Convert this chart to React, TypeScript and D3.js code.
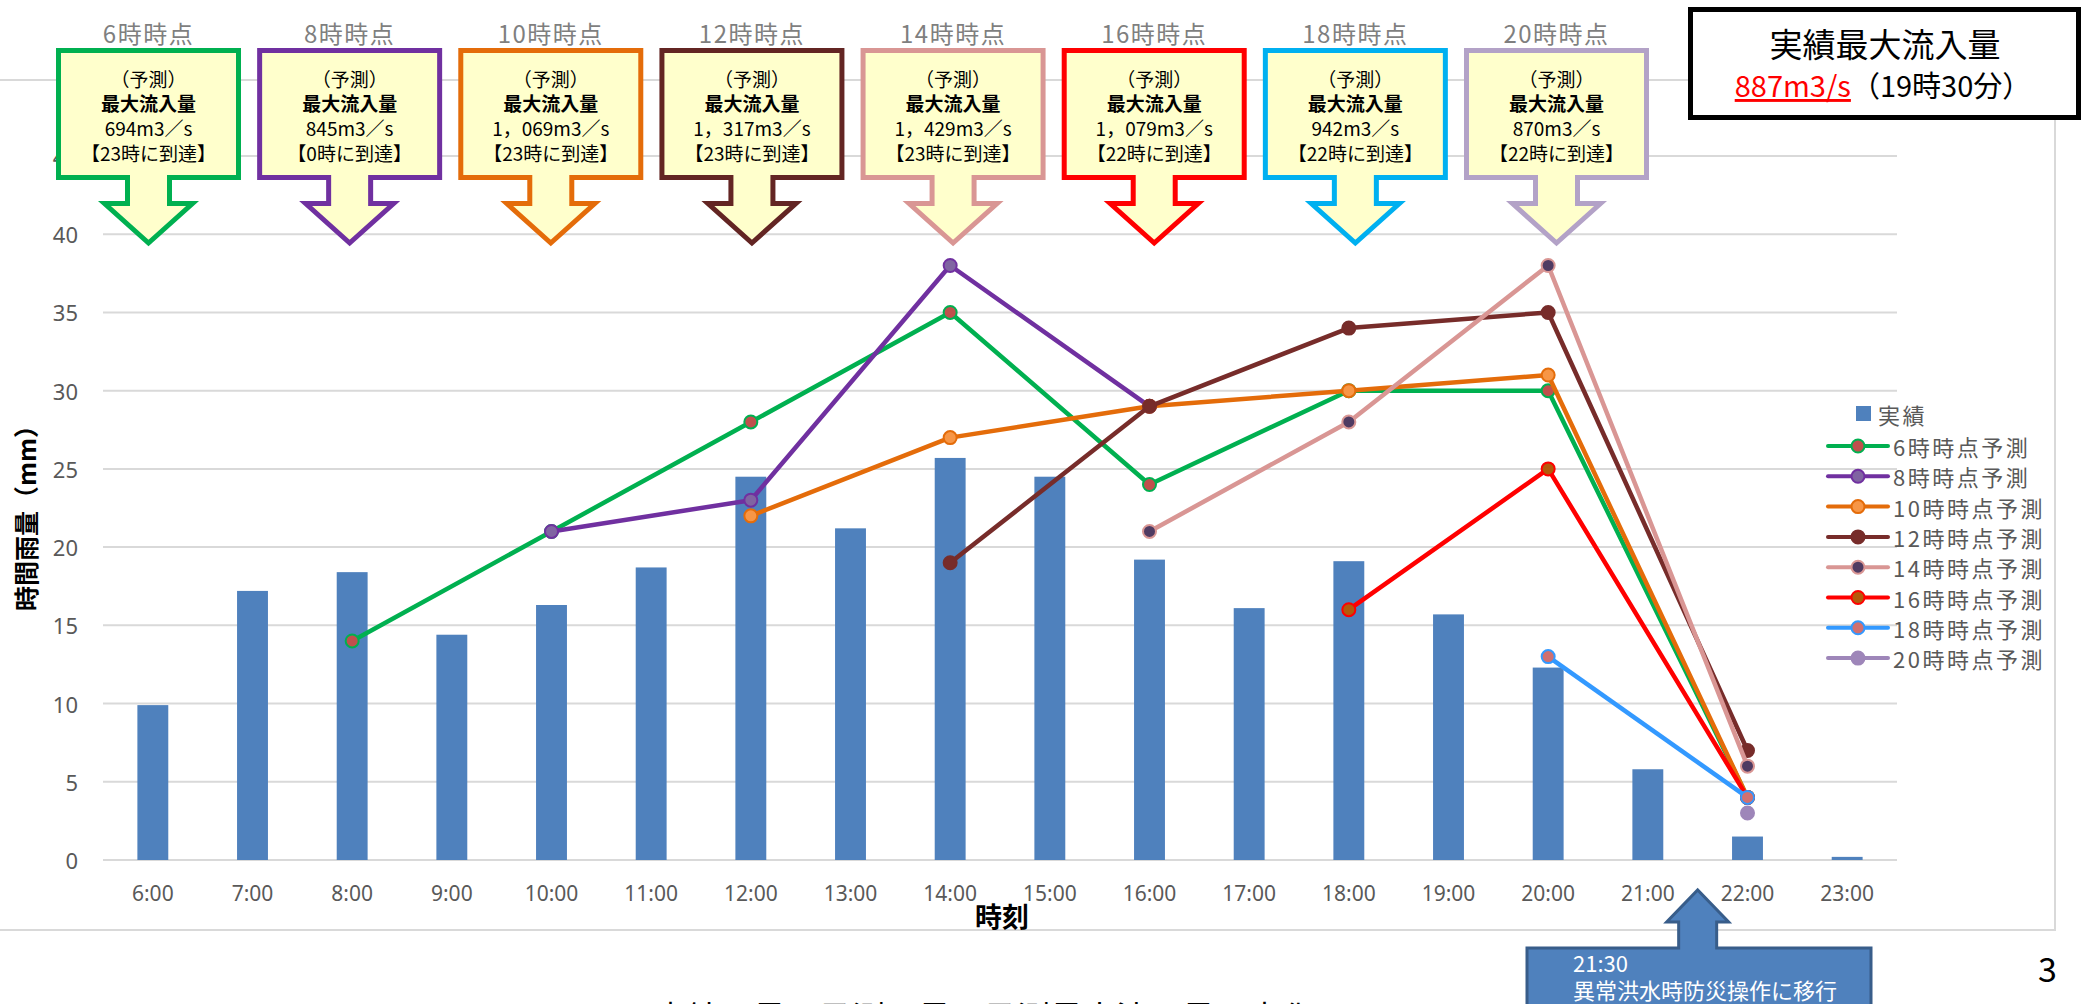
import React, { useEffect, useRef } from "react";
import * as d3 from "d3";

// 実績雨量 (mm) per hour
const hours = ["6:00", "7:00", "8:00", "9:00", "10:00", "11:00", "12:00", "13:00", "14:00", "15:00", "16:00", "17:00", "18:00", "19:00", "20:00", "21:00", "22:00", "23:00"];
const actualRain = [9.9, 17.2, 18.4, 14.4, 16.3, 18.7, 24.5, 21.2, 25.7, 24.5, 19.2, 16.1, 19.1, 15.7, 12.3, 5.8, 1.5, 0.2];

// forecasts, only at even hours
const predHours = ["6:00", "8:00", "10:00", "12:00", "14:00", "16:00", "18:00", "20:00", "22:00"];
const pred06 = [null, 14, 21, 28, 35, 24, 30, 30, 4];
const pred08 = [null, null, 21, 23, 38, 29, null, null, null];
const pred10 = [null, null, null, 22, 27, 29, 30, 31, 4];
const pred12 = [null, null, null, null, 19, 29, 34, 35, 7];
const pred14 = [null, null, null, null, null, 21, 28, 38, 6];
const pred16 = [null, null, null, null, null, null, 16, 25, 4];
const pred18 = [null, null, null, null, null, null, null, 13, 4];
const pred20 = [null, null, null, null, null, null, null, null, 3];

const seriesNames = ["6時時点予測", "8時時点予測", "10時時点予測", "12時時点予測", "14時時点予測", "16時時点予測", "18時時点予測", "20時時点予測"];
const lineColors = ["#00b050", "#7030a0", "#e46c0a", "#772c2a", "#d99694", "#ff0000", "#3399ff", "#9e86b9"];
const markerFills = ["#c0504d", "#8064a2", "#f79646", "#772c2a", "#4f3b62", "#b45a0a", "#d07070", "#9e86b9"];

const yTicks = [0, 5, 10, 15, 20, 25, 30, 35, 40, 45];

// callouts above the chart
const calloutTitles = ["6時時点", "8時時点", "10時時点", "12時時点", "14時時点", "16時時点", "18時時点", "20時時点"];
const calloutFlows = ["694m3／s", "845m3／s", "1，069m3／s", "1，317m3／s", "1，429m3／s", "1，079m3／s", "942m3／s", "870m3／s"];
const calloutReach = ["【23時に到達】", "【0時に到達】", "【23時に到達】", "【23時に到達】", "【23時に到達】", "【22時に到達】", "【22時に到達】", "【22時に到達】"];
const calloutColors = ["#00b050", "#7030a0", "#e46c0a", "#632523", "#d99694", "#ff0000", "#00b0f0", "#b3a2c7"];

const FONT = "'Noto Sans CJK JP', 'Noto Sans', sans-serif";

export default function App() {
  const ref = useRef<SVGSVGElement>(null);

  useEffect(() => {
    const svg = d3.select(ref.current);
    svg.selectAll("*").remove();
    svg.style("font-family", FONT);

    const left = 103, right = 1897, bottom = 860, top = 156;

    const x = d3.scaleBand().domain(hours).range([left, right]).padding(0);
    const bw = x.bandwidth();
    const cx = (h: string) => (x(h) as number) + bw / 2;
    const y = d3.scaleLinear().domain([0, 45]).range([bottom, top]);

    // chart area frame
    svg.append("path")
      .attr("d", `M-5,80 H2055 V930 H-5`)
      .attr("fill", "none")
      .attr("stroke", "#d9d9d9")
      .attr("stroke-width", 2);

    // gridlines + y labels
    svg.append("g").selectAll("line").data(yTicks).enter().append("line")
      .attr("x1", left).attr("x2", right)
      .attr("y1", (d) => y(d)).attr("y2", (d) => y(d))
      .attr("stroke", "#d9d9d9").attr("stroke-width", 2);

    svg.append("g").selectAll("text").data(yTicks).enter().append("text")
      .attr("x", 78).attr("y", (d) => y(d))
      .attr("text-anchor", "end").attr("dominant-baseline", "central")
      .attr("fill", "#595959").style("font-size", "22px")
      .style("font-family", "'Noto Sans', sans-serif")
      .text((d) => d);

    // x labels
    svg.append("g").selectAll("text").data(hours).enter().append("text")
      .attr("x", (d) => cx(d)).attr("y", 893)
      .attr("text-anchor", "middle").attr("dominant-baseline", "central")
      .attr("fill", "#595959").style("font-size", "21px")
      .style("font-family", "'Noto Sans', sans-serif")
      .text((d) => d);

    // axis titles
    svg.append("text")
      .attr("x", (left + right) / 2 + 2).attr("y", 915)
      .attr("text-anchor", "middle").attr("dominant-baseline", "central")
      .style("font-size", "27px").style("font-weight", "bold")
      .text("時刻");

    svg.append("text")
      .attr("transform", "translate(25,512) rotate(-90)")
      .attr("text-anchor", "middle").attr("dominant-baseline", "central")
      .style("font-size", "25px").style("font-weight", "bold")
      .text("時間雨量（mm）");

    // bars
    const barW = bw * 0.31;
    svg.append("g").selectAll("rect").data(actualRain).enter().append("rect")
      .attr("x", (d, i) => cx(hours[i]) - barW / 2)
      .attr("y", (d) => y(d))
      .attr("width", barW)
      .attr("height", (d) => bottom - y(d))
      .attr("fill", "#4f81bd");

    // forecast lines
    const allPreds = [pred06, pred08, pred10, pred12, pred14, pred16, pred18, pred20];
    const line = d3.line<[string, number | null]>()
      .defined((d) => d[1] != null)
      .x((d) => cx(d[0]))
      .y((d) => y(d[1] as number));

    allPreds.forEach((vals, k) => {
      const pts = predHours.map((h, i) => [h, vals[i]] as [string, number | null]);
      const g = svg.append("g");
      g.append("path")
        .attr("d", line(pts))
        .attr("fill", "none")
        .attr("stroke", lineColors[k])
        .attr("stroke-width", 4.5)
        .attr("stroke-linejoin", "round");
      g.selectAll("circle").data(pts.filter((p) => p[1] != null)).enter().append("circle")
        .attr("cx", (d) => cx(d[0]))
        .attr("cy", (d) => y(d[1] as number))
        .attr("r", 6.5)
        .attr("fill", markerFills[k])
        .attr("stroke", lineColors[k])
        .attr("stroke-width", 2);
    });

    // legend
    const lg = svg.append("g");
    lg.append("rect").attr("x", 1856).attr("y", 406).attr("width", 15).attr("height", 15).attr("fill", "#4f81bd");
    lg.append("text").attr("x", 1878).attr("y", 414)
      .attr("dominant-baseline", "central").attr("fill", "#595959")
      .style("font-size", "22px").style("letter-spacing", "2.5px")
      .text("実績");
    seriesNames.forEach((name, k) => {
      const ly = 446 + k * 30.3;
      lg.append("line").attr("x1", 1828).attr("x2", 1888).attr("y1", ly).attr("y2", ly)
        .attr("stroke", lineColors[k]).attr("stroke-width", 4).attr("stroke-linecap", "round");
      lg.append("circle").attr("cx", 1858).attr("cy", ly).attr("r", 6.5)
        .attr("fill", markerFills[k]).attr("stroke", lineColors[k]).attr("stroke-width", 2);
      lg.append("text").attr("x", 1893).attr("y", ly)
        .attr("dominant-baseline", "central").attr("fill", "#595959")
        .style("font-size", "22px").style("letter-spacing", "2.5px")
        .text(name);
    });

    // forecast callouts
    const cpos = d3.scaleLinear().domain([0, calloutTitles.length - 1]).range([148.5, 1556.5]);
    calloutTitles.forEach((title, i) => {
      const c = cpos(i);
      const g = svg.append("g");
      g.append("text").attr("x", c).attr("y", 32)
        .attr("text-anchor", "middle").attr("dominant-baseline", "central")
        .attr("fill", "#7f7f7f").style("font-size", "24px").style("letter-spacing", "1.5px")
        .text(title);
      const d = `M${c - 90},50.5 H${c + 90} V177.5 H${c + 21} V203.5 H${c + 44} L${c},243 L${c - 44},203.5 H${c - 21} V177.5 H${c - 90} Z`;
      g.append("path").attr("d", d)
        .attr("fill", "#ffffcc")
        .attr("stroke", calloutColors[i])
        .attr("stroke-width", 5)
        .attr("stroke-linejoin", "miter");
      const lines = ["（予測）", "最大流入量", calloutFlows[i], calloutReach[i]];
      lines.forEach((t, j) => {
        g.append("text").attr("x", c).attr("y", 78 + j * 24.8)
          .attr("text-anchor", "middle").attr("dominant-baseline", "central")
          .attr("fill", "#000")
          .style("font-size", "19px")
          .style("font-weight", j === 1 ? "bold" : "normal")
          .text(t);
      });
    });

    // actual peak box
    svg.append("rect").attr("x", 1690.5).attr("y", 9.5).attr("width", 388).attr("height", 108)
      .attr("fill", "#fff").attr("stroke", "#000").attr("stroke-width", 5);
    svg.append("text").attr("x", 1885).attr("y", 43)
      .attr("text-anchor", "middle").attr("dominant-baseline", "central")
      .style("font-size", "33px").text("実績最大流入量");
    const t2 = svg.append("text").attr("x", 1883).attr("y", 84)
      .attr("text-anchor", "middle").attr("dominant-baseline", "central")
      .style("font-size", "29px");
    t2.append("tspan").attr("fill", "#ff0000").style("text-decoration", "underline").text("887m3/s");
    t2.append("tspan").attr("fill", "#000").text("（19時30分）");

    // 21:30 annotation
    const tipX = cx("21:00") + bw / 2;
    const ad = `M1527,948 H${tipX - 19} V922 H${tipX - 31} L${tipX},890 L${tipX + 31},922 H${tipX + 19} V948 H1871 V1020 H1527 Z`;
    svg.append("path").attr("d", ad)
      .attr("fill", "#4f81bd").attr("stroke", "#385d8a").attr("stroke-width", 3).attr("stroke-linejoin", "miter");
    svg.append("text").attr("x", 1573).attr("y", 962)
      .attr("dominant-baseline", "central").attr("fill", "#fff").style("font-size", "22px").text("21:30");
    svg.append("text").attr("x", 1573).attr("y", 989)
      .attr("dominant-baseline", "central").attr("fill", "#fff").style("font-size", "22px").text("異常洪水時防災操作に移行");

    // page number and slide title (cut off by the page edge, as in the slide)
    svg.append("text").attr("x", 2038).attr("y", 982).style("font-size", "34px").text("3");
    svg.append("text").attr("x", 654).attr("y", 1030).style("font-size", "33px").text("実績雨量と予測雨量、予測最大流入量の変化");
  }, []);

  return (
    <svg
      ref={ref}
      width={2085}
      height={1004}
      style={{ position: "absolute", left: 0, top: 0, background: "#fff" }}
    />
  );
}
